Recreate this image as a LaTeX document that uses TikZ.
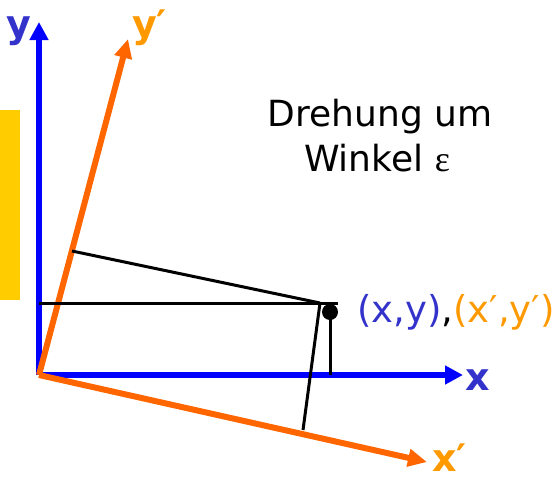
\documentclass[tikz,border=0pt]{standalone}
\usepackage{fontspec}
\setmainfont{DejaVu Sans}
\newfontfamily\grserif{Liberation Serif}
\usetikzlibrary{arrows.meta}
\definecolor{axblue}{HTML}{0000FF}
\definecolor{axorange}{HTML}{FF6600}
\definecolor{labblue}{HTML}{3333CC}
\definecolor{laborange}{HTML}{FF9900}
\definecolor{boxyellow}{HTML}{FFCC00}
\tikzset{
  bigtext/.style={font=\fontsize{36}{43}\selectfont, inner sep=0pt},
  axlabel/.style={font=\fontsize{38}{45}\selectfont\bfseries, inner sep=0pt},
  blueaxis/.style={draw=axblue, line width=6pt, -{Triangle[length=18pt,width=18pt]}},
  orangeaxis/.style={draw=axorange, line width=6pt, -{Triangle[length=19pt,width=17pt]}},
  helper/.style={draw=black, line width=3pt},
}
\begin{document}
\begin{tikzpicture}[x=1pt,y=-1pt]
\useasboundingbox (0,0) rectangle (555,480);
\fill[boxyellow] (0,110) rectangle (20,300);

\coordinate (O) at (39,375);
\coordinate (Ytip) at (39,22);
\coordinate (Xtip) at (463,375);
\coordinate (Yptip) at (128,39);
\coordinate (Xptip) at (427,462);

\draw[blueaxis] (O) -- (Ytip);
\draw[blueaxis] (O) -- (Xtip);
\draw[orangeaxis] (O) -- (Yptip);
\draw[orangeaxis] (O) -- (Xptip);

\coordinate (Hl) at (39,303);
\coordinate (Hr) at (338,303);
\coordinate (C) at (320,303);
\coordinate (Yp) at (72,251);
\coordinate (Xp) at (303,430);
\coordinate (Xf) at (330,375);

\draw[helper] (Hl) -- (Hr);
\draw[helper] (Yp) -- (C);
\draw[helper] (Xp) -- (C);
\node[circle, fill=black, inner sep=0pt, minimum size=16pt] (P) at (330,312) {};
\draw[helper] (P.center) -- (Xf);

\node[axlabel, text=labblue, anchor=base] (ylab) at (19,37) {y};
\node[axlabel, text=laborange, anchor=base west] (yplab) at (132,37) {y′};
\node[axlabel, text=labblue, anchor=base west] (xlab) at (465,390) {x};
\node[axlabel, text=laborange, text depth=0pt, anchor=base west] (xplab) at (432,471) {x′};

\node[bigtext, font=\fontsize{37}{44}\selectfont, anchor=base west] (pt) at (357,322) {\textcolor{labblue}{(x,y)},\textcolor{laborange}{(x′,y′)}};

\node[bigtext, anchor=base] (t1) at (380,126) {Drehung um};
\node[bigtext, anchor=base] (t2) at (377,171) {Winkel {\grserif ε}};
\end{tikzpicture}
\end{document}
